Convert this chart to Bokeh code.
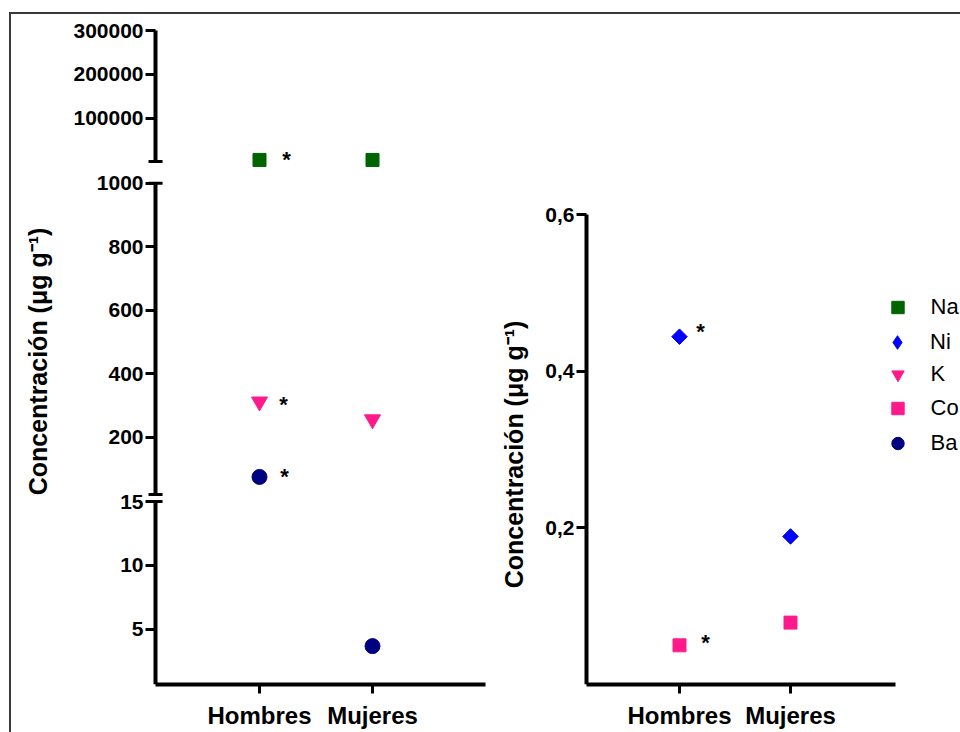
import numpy as np
from bokeh.core.properties import value
from bokeh.embed import file_html
from bokeh.layouts import column, row
from bokeh.models import (CustomJSTickFormatter, FixedTicker, Legend, LegendItem,
                          LinearAxis, Range1d, Spacer)
from bokeh.plotting import figure
from bokeh.resources import INLINE

# ---------------------------------------------------------------- data
groups = ["Hombres", "Mujeres"]
group_x = [1, 2]

# concentrations, µg g-1
na = [4600, 4500]
k = [312, 256]
ba = [75, 3.7]
ni = [0.444, 0.189]
co = [0.050, 0.079]

# significant difference marks (*)
na_sig = [True, False]
k_sig = [True, False]
ba_sig = [True, False]
ni_sig = [True, False]
co_sig = [True, False]

# broken y axis of the left panel, segments from top to bottom
seg_names = ["alto", "medio", "bajo"]
seg_limits = [(1000, 300000), (20, 1000), (0.7, 15)]
seg_ticks = [[100000, 200000, 300000], [200, 400, 600, 800, 1000], [5, 10, 15]]

right_limits = (0, 0.6)
right_ticks = [0.2, 0.4, 0.6]

y_title = "Concentración (μg g⁻¹)"
legend_order = ["Na", "Ni", "K", "Co", "Ba"]

# ---------------------------------------------------------------- style
FONT = "Liberation Sans"
TICK_FONT = "21px"
CAT_FONT = "24px"
TITLE_FONT = "25px"
LEGEND_FONT = "22px"
STAR_FONT = "22px"
INK = "#000000"

marker_style = {
    "Na": dict(marker="square", color="#006400", size=13, angle=0.0),
    "Ni": dict(marker="square", color="#0000ff", size=11, angle=np.pi / 4),
    "K": dict(marker="inverted_triangle", color="#ff1a8c", size=16, angle=0.0),
    "Co": dict(marker="square", color="#ff1a8c", size=13, angle=0.0),
    "Ba": dict(marker="circle", color="#000080", size=15, angle=0.0),
}
# legend symbol (the legend does not rotate markers)
legend_marker = {"Na": "square", "Ni": "diamond", "K": "inverted_triangle",
                 "Co": "square", "Ba": "circle"}
legend_box_w = {"Na": 31, "Ni": 34, "K": 31, "Co": 31, "Ba": 31}
# pixel offsets of the "*" relative to its point
star_offset = {"Na": (27, 0), "K": (24, 3), "Ba": (25, 0), "Ni": (21, -5), "Co": (26, -3)}

# both canvases share the same vertical frame (canvas y)
CANVAS_H = 718
FRAME_TOP, FRAME_BOTTOM = 2, 670

# left panel
L_W = 479
L_BORDER_LEFT, L_BORDER_RIGHT = 5, 5
L_PX_PER_X = 113
L_XRANGE = (1 - 243 / L_PX_PER_X, 3.0)
L_YAXIS_AT = 0.08
CAP_HALF = 0.062
# canvas y of (lower limit, upper limit) for every segment
seg_px = [(147, 16), (479.9, 168.7), (670, 487)]
# y-title placement relative to the axis (pixels)
L_TITLE_DX, L_TITLE_DY = -118, 11

# right panel
R_W = 470
R_BORDER_LEFT = 5
R_PX_PER_X = 111
R_XSTART = 1 - 184 / R_PX_PER_X
R_XRANGE = (R_XSTART, R_XSTART + 465 / R_PX_PER_X)
R_YAXIS_AT = 1 - 93 / R_PX_PER_X
R_XAXIS_END = 2.946
R_TOP_PX = 200          # canvas y of the upper limit
R_TITLE_DX, R_TITLE_DY = -73, 5


def style_axis(ax, font_size=TICK_FONT):
    ax.axis_line_width = 4
    ax.axis_line_color = INK
    ax.major_tick_line_width = 3
    ax.major_tick_line_color = INK
    ax.major_tick_out = 10
    ax.major_tick_in = 0
    ax.minor_tick_out = 0
    ax.minor_tick_in = 0
    ax.major_label_text_font = FONT
    ax.major_label_text_font_style = "bold"
    ax.major_label_text_font_size = font_size
    ax.major_label_text_color = INK
    ax.major_label_standoff = 2


def style_x_axis(ax, bounds, standoff):
    style_axis(ax, CAT_FONT)
    ax.ticker = FixedTicker(ticks=group_x)
    ax.major_label_overrides = {x: g for x, g in zip(group_x, groups)}
    ax.major_tick_out = 9
    ax.major_label_standoff = standoff
    ax.bounds = bounds


def draw_series(p, name, xs, ys, sig, **kw):
    st = marker_style[name]
    r = p.scatter(xs, ys, marker=st["marker"], size=st["size"], angle=st["angle"],
                  fill_color=st["color"], line_color=st["color"], line_width=1, **kw)
    sx = [x for x, s in zip(xs, sig) if s]
    sy = [y for y, s in zip(ys, sig) if s]
    if sx:
        dx, dy = star_offset[name]
        p.text(sx, sy, text=["*"] * len(sx), x_offset=dx, y_offset=dy,
               text_font=value(FONT), text_font_style="bold", text_font_size=STAR_FONT,
               text_color=INK, text_align="center", text_baseline="middle", **kw)
    return r


def draw_y_title(p, x, y, dx, dy):
    p.text([x], [y], text=[y_title], angle=np.pi / 2, x_offset=dx, y_offset=dy,
           text_font=value(FONT), text_font_style="bold", text_font_size=TITLE_FONT,
           text_color=INK, text_align="center", text_baseline="middle")


def base_figure(width, x_range, y_range, border_left, border_right):
    p = figure(width=width, height=CANVAS_H, x_range=x_range, y_range=y_range,
               output_backend="svg", toolbar_location=None, title=None,
               y_axis_location=None,
               min_border_left=border_left, min_border_right=border_right,
               min_border_top=FRAME_TOP, min_border_bottom=CANVAS_H - FRAME_BOTTOM,
               outline_line_color=None, background_fill_color="white",
               border_fill_color="white")
    p.xgrid.visible = False
    p.ygrid.visible = False
    return p


# ---------------------------------------------------------------- left panel
left = base_figure(L_W, Range1d(*L_XRANGE), Range1d(0, 1), L_BORDER_LEFT, L_BORDER_RIGHT)
style_x_axis(left.xaxis[0], (L_YAXIS_AT, L_XRANGE[1]), 8)

for name, (lo, hi), ticks, (y_lo, y_hi) in zip(seg_names, seg_limits, seg_ticks, seg_px):
    scale = (y_lo - y_hi) / (hi - lo)
    start = lo - (FRAME_BOTTOM - y_lo) / scale
    end = hi + (y_hi - FRAME_TOP) / scale
    left.extra_y_ranges[name] = Range1d(start, end)
    ax = LinearAxis(y_range_name=name, fixed_location=L_YAXIS_AT, bounds=(lo, hi),
                    ticker=FixedTicker(ticks=ticks),
                    formatter=CustomJSTickFormatter(code="return tick.toFixed(0)"))
    style_axis(ax)
    left.add_layout(ax, "left")

# break caps at the inner ends of the segments
caps = [(0, 0), (1, 1), (1, 0), (2, 1)]
for si, end_i in caps:
    v = seg_limits[si][end_i]
    left.segment(x0=[L_YAXIS_AT - CAP_HALF], x1=[L_YAXIS_AT + CAP_HALF], y0=[v], y1=[v],
                 y_range_name=seg_names[si], line_width=3, line_color=INK)

draw_y_title(left, L_YAXIS_AT, 0.5, L_TITLE_DX, L_TITLE_DY)


def segment_of(v):
    for name, (lo, hi) in zip(seg_names, seg_limits):
        if lo <= v <= hi:
            return name
    return seg_names[-1]


for name, vals, sig in [("Na", na, na_sig), ("K", k, k_sig), ("Ba", ba, ba_sig)]:
    for x, v, s in zip(group_x, vals, sig):
        draw_series(left, name, [x], [v], [s], y_range_name=segment_of(v))

# ---------------------------------------------------------------- right panel
r_scale = (FRAME_BOTTOM - R_TOP_PX) / (right_limits[1] - right_limits[0])
r_yrange = Range1d(right_limits[0], right_limits[1] + (R_TOP_PX - FRAME_TOP) / r_scale)
right = base_figure(R_W, Range1d(*R_XRANGE), r_yrange, R_BORDER_LEFT, 0)

ry = LinearAxis(fixed_location=R_YAXIS_AT, bounds=right_limits,
                ticker=FixedTicker(ticks=right_ticks),
                formatter=CustomJSTickFormatter(code="return tick.toFixed(1).replace('.', ',')"))
style_axis(ry)
right.add_layout(ry, "left")

style_x_axis(right.xaxis[0], (R_YAXIS_AT, R_XAXIS_END), 8)

draw_y_title(right, R_YAXIS_AT, sum(right_limits) / 2, R_TITLE_DX, R_TITLE_DY)

draw_series(right, "Ni", group_x, ni, ni_sig)
draw_series(right, "Co", group_x, co, co_sig)

# legend-only renderers (no visible points)
legend_renderers = {}
for name in legend_order:
    st = marker_style[name]
    legend_renderers[name] = right.scatter([np.nan], [np.nan], marker=legend_marker[name],
                                           fill_color=st["color"], line_color=st["color"])

# one legend row per element, so each symbol keeps its own box
R_FRAME_LEFT_PAGE, R_FRAME_BOTTOM_PAGE = 495, 684
row_centres = [307, 342, 374, 408, 443]
LEG_X, LEG_TEXT_X, ROW_H = 897, 930, 34
for name, cy in zip(legend_order, row_centres):
    gw = legend_box_w[name]
    leg = Legend(items=[LegendItem(label=name, renderers=[legend_renderers[name]])],
                 location=(LEG_X - gw / 2 - R_FRAME_LEFT_PAGE, R_FRAME_BOTTOM_PAGE - cy - ROW_H / 2),
                 glyph_width=gw, glyph_height=ROW_H, label_height=ROW_H,
                 label_standoff=int(round(LEG_TEXT_X - (LEG_X + gw / 2))),
                 padding=0, margin=0, spacing=0,
                 border_line_color=None, background_fill_alpha=0,
                 label_text_font=FONT, label_text_font_size=LEGEND_FONT,
                 label_text_color=INK)
    right.add_layout(leg, "center")

# ---------------------------------------------------------------- page
rule = {"background-color": "#3a3a3a"}
page = column(
    Spacer(width=960, height=12),
    row(Spacer(width=9, height=2), Spacer(width=951, height=2, styles=rule)),
    row(Spacer(width=9, height=CANVAS_H), Spacer(width=2, height=CANVAS_H, styles=rule), left, right),
)

open("out.html", "w").write(file_html(page, INLINE))
